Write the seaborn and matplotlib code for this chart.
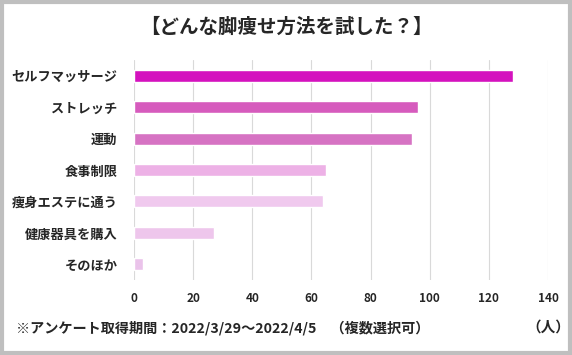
import matplotlib
matplotlib.use('Agg')
import matplotlib.pyplot as plt
import seaborn as sns
import pandas as pd
from matplotlib.patches import Rectangle

# データ
methods = ['セルフマッサージ', 'ストレッチ', '運動', '食事制限', '痩身エステに通う', '健康器具を購入', 'そのほか']
counts = [128, 96, 94, 65, 64, 27, 3]
bar_colors = ['#D412BE', '#D65BBD', '#D673C3', '#EDB1E6', '#F0C9EE', '#EEC6EC', '#EAC3EA']
x_ticks = [0, 20, 40, 60, 80, 100, 120, 140]

sns.set_style('white')
plt.rcParams['font.family'] = ['Noto Sans CJK JP', 'DejaVu Sans']

df = pd.DataFrame({'method': methods, 'count': counts})

fig = plt.figure(figsize=(5.72, 3.55), dpi=100)
ax = fig.add_axes([134 / 572, 1 - 280 / 355, 414 / 572, 220 / 355])

sns.barplot(data=df, x='count', y='method', hue='method', palette=bar_colors,
            saturation=1, legend=False, width=0.38, ax=ax, orient='h')

ax.set_xlim(0, 140)
ax.set_ylim(6.5, -0.5)
ax.set_xticks(x_ticks)
ax.set_xticklabels([str(t) for t in x_ticks], fontsize=8.5, fontweight='bold')
ax.tick_params(axis='x', length=0, pad=9)
ax.tick_params(axis='y', length=0, pad=12)
for lbl in ax.get_yticklabels():
    lbl.set_fontsize(9.5)
    lbl.set_fontweight('bold')
ax.xaxis.grid(True, color='#D9D9D9', linewidth=0.8)
ax.set_axisbelow(True)
for s in ax.spines.values():
    s.set_visible(False)
ax.set_xlabel('')
ax.set_ylabel('')

# タイトルと注記
fig.text(0.5, 1 - 27 / 355, '【どんな脚痩せ方法を試した？】', ha='center', va='center',
         fontsize=14, fontweight='bold')
fig.text(16 / 572, 1 - 328 / 355, '※アンケート取得期間：2022/3/29～2022/4/5　（複数選択可）',
         ha='left', va='center', fontsize=10.2, fontweight='bold')
fig.text(548 / 572, 1 - 327 / 355, '（人）', ha='center', va='center',
         fontsize=10.5, fontweight='bold')

# 外枠
fig.patches.append(Rectangle((2 / 572, 2 / 355), 568 / 572, 351 / 355,
                             transform=fig.transFigure, fill=False,
                             edgecolor='#BFBFBF', linewidth=3))

fig.savefig('out.png', dpi=100)
